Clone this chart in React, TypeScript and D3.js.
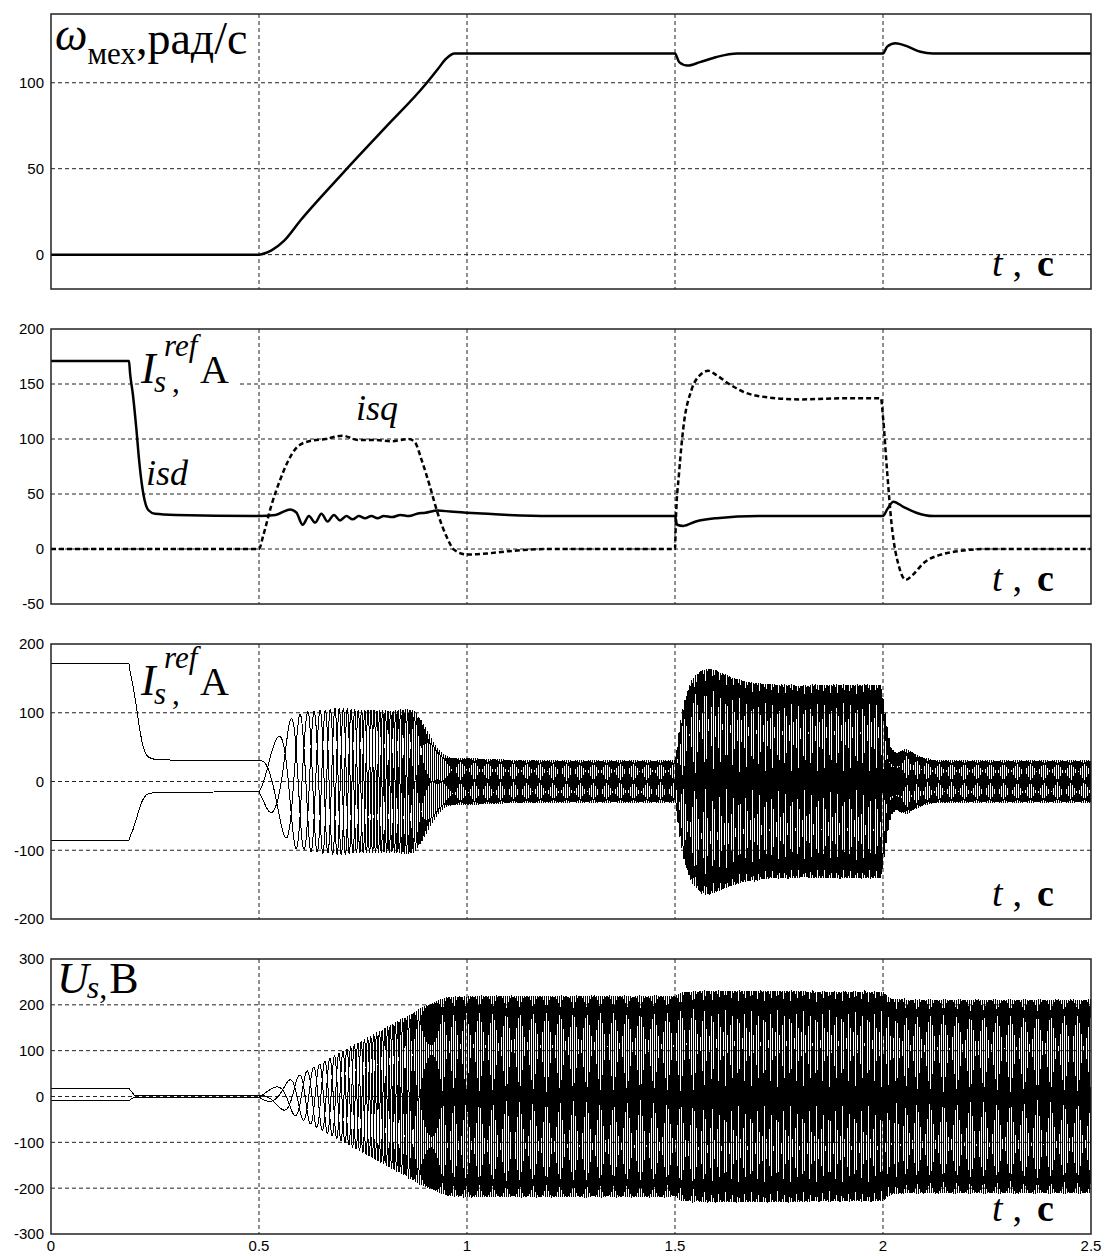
import * as d3 from "d3";
import { useEffect, useRef } from "react";

const W = 1106;
const H = 1256;
const LEFT = 51;
const RIGHT = 1091;
const PANEL_TOP = [14, 329, 644, 959];
const PANEL_H = 275;

// axes
const T_TICKS = [0, 0.5, 1, 1.5, 2, 2.5];
const T_TICK_LABELS = ["0", "0.5", "1", "1.5", "2", "2.5"];
const Y_DOMAINS: [number, number][] = [[-20, 140], [-50, 200], [-200, 200], [-300, 300]];
const Y_TICKS = [
  [0, 50, 100],
  [-50, 0, 50, 100, 150, 200],
  [-200, -100, 0, 100, 200],
  [-300, -200, -100, 0, 100, 200, 300],
];

// speed, rad/s
const T_OMEGA = [0, 0.5, 0.51, 0.53, 0.56, 0.6, 0.7, 0.8, 0.9, 0.93, 0.95, 0.97, 1.0, 1.5, 1.51, 1.53, 1.56, 1.6, 1.65, 2.0, 2.01, 2.03, 2.06, 2.09, 2.12, 2.5];
const OMEGA = [0, 0, 0.5, 2.5, 8, 20, 47, 73, 99, 108, 114, 117, 117, 117, 112, 110, 112, 115, 117, 117, 121, 123, 121, 118, 117, 117];

// isd, A
const T_ISD = [0, 0.1875, 0.19, 0.197, 0.205, 0.212, 0.218, 0.222, 0.228, 0.235, 0.25, 0.3, 0.5, 0.54, 0.575, 0.59, 0.605, 0.62, 0.635, 0.65, 0.665, 0.68, 0.695, 0.71, 0.725, 0.74, 0.755, 0.77, 0.785, 0.8, 0.82, 0.84, 0.86, 0.88, 0.9, 0.93, 0.96, 1.0, 1.05, 1.1, 1.2, 1.5, 1.505, 1.52, 1.55, 1.6, 1.7, 2.0, 2.01, 2.025, 2.05, 2.08, 2.12, 2.2, 2.5];
const ISD = [171, 171, 160, 140, 110, 80, 60, 50, 40, 35, 32, 31, 30, 31, 36, 33, 22, 30, 24, 32, 25, 31, 26, 30, 27, 30, 28, 30, 28, 30, 29, 31, 30, 32, 33, 35, 34, 33, 32, 31, 30, 30, 22, 21, 25, 28, 30, 30, 36, 43, 38, 33, 30, 30, 30];

// isq, A
const T_ISQ = [0, 0.5, 0.51, 0.53, 0.55, 0.57, 0.59, 0.62, 0.66, 0.7, 0.74, 0.78, 0.82, 0.86, 0.875, 0.89, 0.91, 0.93, 0.95, 0.97, 1.0, 1.05, 1.1, 1.2, 1.5, 1.502, 1.51, 1.52, 1.54, 1.56, 1.58, 1.6, 1.63, 1.67, 1.72, 1.8, 1.9, 1.995, 2.0, 2.01, 2.02, 2.04, 2.055, 2.07, 2.1, 2.14, 2.18, 2.25, 2.5];
const ISQ = [0, 0, 12, 40, 62, 80, 92, 98, 100, 103, 99, 99, 98, 100, 97, 82, 58, 32, 12, -1, -5, -4, -2, 0, 0, 25, 70, 110, 145, 158, 162, 158, 150, 142, 138, 136, 137, 137, 120, 70, 25, -18, -28, -24, -12, -5, -2, 0, 0];

// electrical frequency, Hz
const T_FE = [0, 0.5, 0.51, 0.55, 0.6, 0.7, 0.8, 0.9, 0.95, 1.0, 1.5, 1.55, 1.6, 2.0, 2.03, 2.1, 2.5];
const FE = [0, 0, 3, 7, 17, 34, 51, 67, 76, 74.5, 74.5, 75, 80, 80, 77, 74.5, 74.5];

// stator voltage d/q components, V
const T_UD = [0, 0.1875, 0.2, 0.5, 2.5];
const UD = [17.5, 17.5, 3, 3, 3];
const T_UQ = [0, 0.5, 0.52, 0.6, 0.7, 0.8, 0.9, 0.95, 1.0, 1.5, 1.52, 1.6, 2.0, 2.02, 2.1, 2.5];
const UQ = [0, 0, 12, 48, 98, 147, 196, 216, 218, 218, 228, 230, 228, 212, 210, 210];

const SERIF = "'Liberation Serif', 'Times New Roman', serif";
const SANS = "'Liberation Sans', Arial, sans-serif";

export default function App() {
  const ref = useRef<SVGSVGElement>(null);

  useEffect(() => {
    if (!ref.current) return;
    const svg = d3.select(ref.current);
    svg.selectAll("*").remove();

    const x = d3.scaleLinear().domain([0, 2.5]).range([LEFT, RIGHT]);
    const ys = Y_DOMAINS.map((dom, i) =>
      d3.scaleLinear().domain(dom).range([PANEL_TOP[i] + PANEL_H, PANEL_TOP[i]])
    );

    const defs = svg.append("defs");
    PANEL_TOP.forEach((top, i) => {
      defs
        .append("clipPath")
        .attr("id", `clip${i}`)
        .append("rect")
        .attr("x", LEFT)
        .attr("y", top)
        .attr("width", RIGHT - LEFT)
        .attr("height", PANEL_H);
    });

    // grids + tick labels
    PANEL_TOP.forEach((top, i) => {
      const y = ys[i];
      const g = svg.append("g");
      const [lo, hi] = Y_DOMAINS[i];
      g.selectAll("line.h")
        .data(Y_TICKS[i].filter((v) => v > lo && v < hi))
        .join("line")
        .attr("x1", LEFT)
        .attr("x2", RIGHT)
        .attr("y1", (d) => y(d))
        .attr("y2", (d) => y(d))
        .attr("stroke", "#222")
        .attr("stroke-dasharray", "4,3");
      g.selectAll("line.v")
        .data(T_TICKS.slice(1, -1))
        .join("line")
        .attr("x1", (d) => x(d))
        .attr("x2", (d) => x(d))
        .attr("y1", top)
        .attr("y2", top + PANEL_H)
        .attr("stroke", "#222")
        .attr("stroke-dasharray", "4,3");
      g.selectAll("text")
        .data(Y_TICKS[i])
        .join("text")
        .attr("x", LEFT - 7)
        .attr("y", (d) => y(d))
        .attr("dy", "0.36em")
        .attr("text-anchor", "end")
        .attr("font-family", SANS)
        .attr("font-size", 15)
        .text((d) => String(d));
    });

    svg
      .append("g")
      .selectAll("text")
      .data(T_TICKS)
      .join("text")
      .attr("x", (d) => x(d))
      .attr("y", 1251)
      .attr("text-anchor", "middle")
      .attr("font-family", SANS)
      .attr("font-size", 15)
      .text((d, i) => T_TICK_LABELS[i]);

    // panel 1: speed
    const line1 = d3
      .line<number>()
      .x((d, i) => x(T_OMEGA[i]))
      .y((d) => ys[0](d))
      .curve(d3.curveMonotoneX);
    svg
      .append("path")
      .attr("clip-path", "url(#clip0)")
      .attr("d", line1(OMEGA))
      .attr("fill", "none")
      .attr("stroke", "#000")
      .attr("stroke-width", 2.5);

    // panel 2: isd, isq
    const lineD = d3
      .line<number>()
      .x((d, i) => x(T_ISD[i]))
      .y((d) => ys[1](d))
      .curve(d3.curveMonotoneX);
    const lineQ = d3
      .line<number>()
      .x((d, i) => x(T_ISQ[i]))
      .y((d) => ys[1](d))
      .curve(d3.curveMonotoneX);
    svg
      .append("path")
      .attr("clip-path", "url(#clip1)")
      .attr("d", lineD(ISD))
      .attr("fill", "none")
      .attr("stroke", "#000")
      .attr("stroke-width", 2.5);
    svg
      .append("path")
      .attr("clip-path", "url(#clip1)")
      .attr("d", lineQ(ISQ))
      .attr("fill", "none")
      .attr("stroke", "#000")
      .attr("stroke-width", 2.5)
      .attr("stroke-dasharray", "5,3");

    // panels 3 and 4: phase quantities from the d/q curves and the electrical angle
    const fD = d3.scaleLinear(T_ISD, ISD).clamp(true);
    const fQ = d3.scaleLinear(T_ISQ, ISQ).clamp(true);
    const fF = d3.scaleLinear(T_FE, FE).clamp(true);
    const fUd = d3.scaleLinear(T_UD, UD).clamp(true);
    const fUq = d3.scaleLinear(T_UQ, UQ).clamp(true);
    const dt = 0.0002;
    const n = Math.round(2.5 / dt);
    const shifts = [0, (-2 * Math.PI) / 3, (2 * Math.PI) / 3];
    const cur: [number, number][][] = [[], [], []];
    const volt: [number, number][][] = [[], [], []];
    let th = 0;
    for (let k = 0; k <= n; k++) {
      const t = k * dt;
      const id = fD(t), iq = fQ(t), ud = fUd(t), uq = fUq(t);
      shifts.forEach((s, p) => {
        const a = th + s;
        cur[p].push([t, id * Math.cos(a) - iq * Math.sin(a)]);
        volt[p].push([t, ud * Math.cos(a) - uq * Math.sin(a)]);
      });
      th += 2 * Math.PI * fF(t) * dt;
    }
    [cur, volt].forEach((set, j) => {
      const y = ys[2 + j];
      const ln = d3
        .line<[number, number]>()
        .x((d) => x(d[0]))
        .y((d) => y(d[1]));
      set.forEach((pts) => {
        svg
          .append("path")
          .attr("clip-path", `url(#clip${2 + j})`)
          .attr("d", ln(pts))
          .attr("fill", "none")
          .attr("stroke", "#000")
          .attr("stroke-width", 1)
          .attr("shape-rendering", "crispEdges");
      });
    });

    // frames
    PANEL_TOP.forEach((top) => {
      svg
        .append("rect")
        .attr("x", LEFT)
        .attr("y", top)
        .attr("width", RIGHT - LEFT)
        .attr("height", PANEL_H)
        .attr("fill", "none")
        .attr("stroke", "#222")
        .attr("stroke-width", 1.5);
    });

    // "t , c"
    PANEL_TOP.forEach((top) => {
      const t = svg
        .append("text")
        .attr("x", 992)
        .attr("y", top + PANEL_H - 13)
        .attr("font-family", SERIF)
        .attr("font-size", 38);
      t.append("tspan").attr("font-style", "italic").text("t");
      t.append("tspan").attr("dx", 10).text(",");
      t.append("tspan").attr("dx", 15).attr("font-weight", "bold").text("c");
    });

    // panel 1 label
    const l1 = svg.append("text").attr("x", 55).attr("y", 50).attr("font-family", SERIF).attr("font-size", 46);
    l1.append("tspan").attr("font-style", "italic").text("ω");
    l1.append("tspan").attr("font-size", 31).attr("dy", 14).text("мех");
    l1.append("tspan").attr("dy", -10).text(",рад/с");

    // panels 2 and 3 label
    svg.append("rect").attr("x", 140).attr("y", 340).attr("width", 97).attr("height", 55).attr("fill", "#fff");
    const refLabel = (yy: number) => {
      const txt = (xx: number, dy: number, size: number, s: string, italic: boolean) =>
        svg
          .append("text")
          .attr("x", xx)
          .attr("y", yy + dy)
          .attr("font-family", SERIF)
          .attr("font-size", size)
          .attr("font-style", italic ? "italic" : "normal")
          .text(s);
      txt(141, 0, 44, "I", true);
      txt(164, -27, 31, "ref", true);
      txt(154, 9, 31, "s", true);
      txt(172, 9, 31, ",", false);
      txt(200, 0, 40, "A", false);
    };
    refLabel(383);
    refLabel(695);

    svg.append("text").attr("x", 146).attr("y", 485).attr("font-family", SERIF).attr("font-size", 36).attr("font-style", "italic").text("isd");
    svg.append("text").attr("x", 356).attr("y", 420).attr("font-family", SERIF).attr("font-size", 36).attr("font-style", "italic").text("isq");

    // panel 4 label
    const l4 = svg.append("text").attr("x", 57).attr("y", 993).attr("font-family", SERIF).attr("font-size", 44);
    l4.append("tspan").attr("font-style", "italic").text("U");
    l4.append("tspan").attr("font-style", "italic").attr("font-size", 32).attr("dy", 5).attr("dx", -2).text("s");
    l4.append("tspan").attr("font-size", 32).text(",");
    l4.append("tspan").attr("dy", -5).attr("dx", 2).text("B");
  }, []);

  return (
    <svg
      ref={ref}
      width={W}
      height={H}
      style={{ position: "absolute", left: 0, top: 0, background: "#fff" }}
    />
  );
}
